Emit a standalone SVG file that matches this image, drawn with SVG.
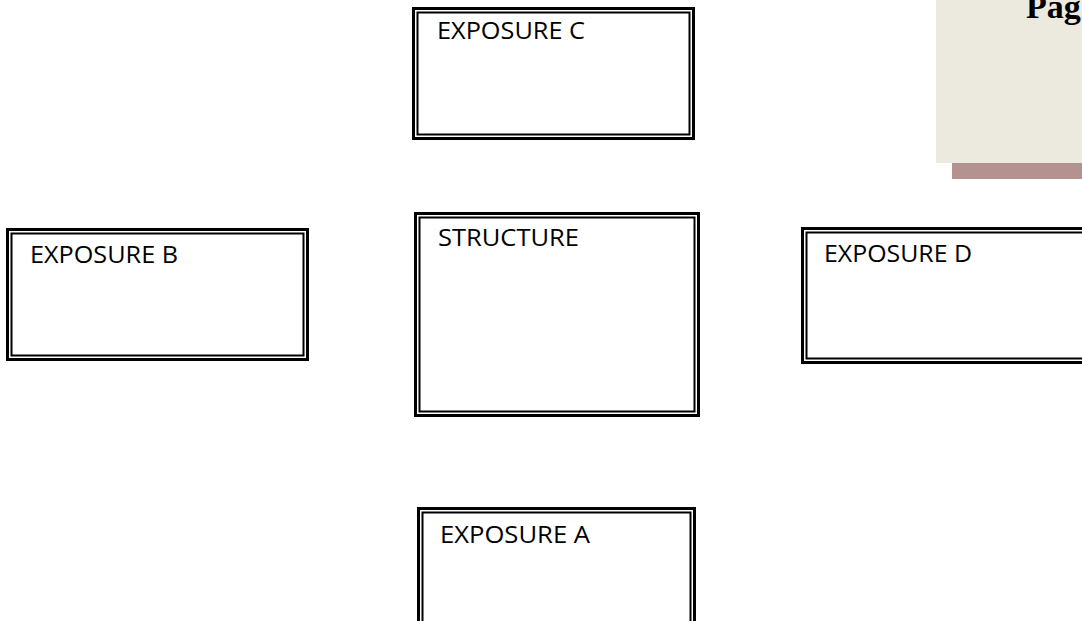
<svg xmlns="http://www.w3.org/2000/svg" width="1082" height="621" viewBox="0 0 1082 621">
<style>
.outer{fill:#fff;stroke:#000;stroke-width:3}
.inner{fill:none;stroke:#000;stroke-width:2}
.lbl{font-family:"Open Sans","DejaVu Sans",sans-serif;font-size:23px;fill:#000}
.pg{font-family:"Liberation Serif","DejaVu Serif",serif;font-size:34px;font-weight:bold;fill:#000}
</style>
<rect width="1082" height="621" fill="#fff"/>
<g id="page-corner">
<rect x="936" y="0" width="146" height="163" fill="#ECE9DF"/>
<rect x="952" y="163" width="130" height="16" fill="#B39290"/>
<text class="pg" x="1026" y="18">Pag</text>
</g>
<g id="connectors"></g>
<g id="exposure-c">
<rect class="outer" x="413.5" y="8.5" width="280" height="130"/>
<rect class="inner" x="417.5" y="12.5" width="272" height="122"/>
<text class="lbl" x="437" y="39" textLength="148" lengthAdjust="spacingAndGlyphs">EXPOSURE C</text>
</g>
<g id="exposure-b">
<rect class="outer" x="7.5" y="229.5" width="300" height="130"/>
<rect class="inner" x="11.5" y="233.5" width="292" height="122"/>
<text class="lbl" x="30" y="263" textLength="148" lengthAdjust="spacingAndGlyphs">EXPOSURE B</text>
</g>
<g id="structure">
<rect class="outer" x="415.5" y="213.5" width="283" height="202"/>
<rect class="inner" x="419.5" y="217.5" width="275" height="194"/>
<text class="lbl" x="438" y="246" textLength="141" lengthAdjust="spacingAndGlyphs">STRUCTURE</text>
</g>
<g id="exposure-d">
<rect class="outer" x="802.5" y="228.5" width="300" height="134"/>
<rect class="inner" x="806.5" y="232.5" width="292" height="126"/>
<text class="lbl" x="824" y="262" textLength="148" lengthAdjust="spacingAndGlyphs">EXPOSURE D</text>
</g>
<g id="exposure-a">
<rect class="outer" x="418.5" y="508.5" width="276" height="130"/>
<rect class="inner" x="422.5" y="512.5" width="268" height="122"/>
<text class="lbl" x="440" y="543" textLength="150" lengthAdjust="spacingAndGlyphs">EXPOSURE A</text>
</g>
</svg>
